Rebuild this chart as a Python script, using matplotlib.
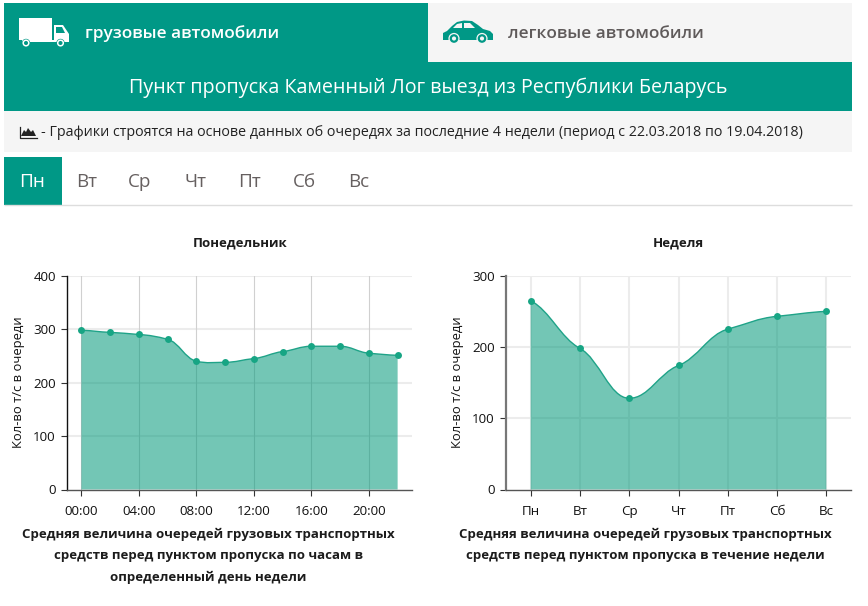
"""Queue charts for the Kamenny Log border checkpoint."""

import matplotlib
matplotlib.use("Agg")
import matplotlib.pyplot as plt
from matplotlib.patches import Circle, PathPatch, Polygon, Rectangle
from matplotlib.path import Path

plt.rcParams["font.family"] = ["Open Sans", "DejaVu Sans"]

GREEN = "#009886"
LINE = "#1fa388"
DOT = "#17a584"
FILL = "#009879"
PANEL = "#f5f5f5"
W, H = 868, 606

# Monday, by hour
hours = [0, 2, 4, 6, 8, 10, 12, 14, 16, 18, 20, 22]
monday_queue = [298, 294, 290, 281, 240, 238, 245, 258, 268, 268, 255, 251]
hour_ticks = [0, 4, 8, 12, 16, 20]
hour_labels = ["00:00", "04:00", "08:00", "12:00", "16:00", "20:00"]
monday_yticks = [0, 100, 200, 300, 400]

# Whole week
days = ["Пн", "Вт", "Ср", "Чт", "Пт", "Сб", "Вс"]
week_queue = [265, 198, 128, 174, 225, 243, 250]
week_yticks = [0, 100, 200, 300]


def curve_path(xs, ys, k=0.55, handle=0.4):
    # smooth bezier through the points, flat at local extrema
    slopes = []
    for i in range(len(xs)):
        lo, hi = max(i - 1, 0), min(i + 1, len(xs) - 1)
        s = (ys[hi] - ys[lo]) / (xs[hi] - xs[lo])
        if 0 < i < len(xs) - 1 and (ys[i] - ys[lo]) * (ys[hi] - ys[i]) <= 0:
            s = 0
        slopes.append(k * s)
    verts = [(xs[0], ys[0])]
    codes = [Path.MOVETO]
    for i in range(len(xs) - 1):
        h = (xs[i + 1] - xs[i]) * handle
        verts += [(xs[i] + h, ys[i] + slopes[i] * h),
                  (xs[i + 1] - h, ys[i + 1] - slopes[i + 1] * h),
                  (xs[i + 1], ys[i + 1])]
        codes += [Path.CURVE4] * 3
    return verts, codes


def area_axes(fig, box, xs, ys, xlim, ylim, xticks, xlabels, yticks, vgrid, vlw, spine):
    left, top, right, bottom = box
    ax = fig.add_axes([left / W, 1 - bottom / H, (right - left) / W, (bottom - top) / H], zorder=2)
    ax.patch.set_alpha(0)
    ax.set_xlim(*xlim)
    ax.set_ylim(*ylim)
    ax.set_xticks(xticks, xlabels)
    ax.set_yticks(yticks)
    ax.tick_params(labelsize=9.6, length=4, width=0.8, color="#333333", labelcolor="#111111", pad=4)
    ax.tick_params(axis="x", pad=7)
    for v in yticks[1:]:
        ax.axhline(v, color="#ececec", lw=1.5, zorder=1)
    for v in xticks:
        ax.axvline(v, color=vgrid, lw=vlw, zorder=1)

    verts, codes = curve_path(xs, ys)
    area = verts + [(xs[-1], 0), (xs[0], 0), (xs[0], ys[0])]
    area_codes = codes + [Path.LINETO, Path.LINETO, Path.CLOSEPOLY]
    ax.add_patch(PathPatch(Path(area, area_codes), fc=FILL, ec="none", alpha=0.55, zorder=2))
    ax.add_patch(PathPatch(Path(verts, codes), fc="none", ec=LINE, lw=1, zorder=3))
    ax.plot(xs, ys, "o", color=DOT, ms=5, mew=0, zorder=4, clip_on=False)

    for name in ("top", "right"):
        ax.spines[name].set_visible(False)
    ax.spines["left"].set_color(spine[0])
    ax.spines["left"].set_linewidth(spine[1])
    ax.spines["bottom"].set_color("#555555")
    ax.spines["bottom"].set_linewidth(1)
    return ax


def draw_header(bg):
    bg.add_patch(Rectangle((4, 3), 424, 59, fc=GREEN, ec="none"))
    bg.add_patch(Rectangle((428, 3), 424, 59, fc=PANEL, ec="none"))
    bg.add_patch(Rectangle((4, 62), 848, 49, fc=GREEN, ec="none"))
    bg.add_patch(Rectangle((4, 111), 848, 41, fc=PANEL, ec="none"))
    bg.add_patch(Rectangle((4, 157), 58, 48, fc=GREEN, ec="none"))
    bg.plot([4, 852], [204.5, 204.5], color="#dddddd", lw=1, solid_capstyle="butt")

    # truck icon
    bg.add_patch(Rectangle((19, 18), 33, 22, fc="white", ec="none"))
    bg.add_patch(Polygon([(54, 25), (63, 25), (69, 34), (69, 42), (54, 42)], fc="white", ec="none"))
    bg.add_patch(Polygon([(56, 27), (62, 27), (65, 33), (56, 33)], fc=GREEN, ec="none"))
    bg.add_patch(Rectangle((22, 40), 32, 2, fc="white", ec="none"))
    for cx in (26, 60.5):
        bg.add_patch(Circle((cx, 43), 4.2, fc=GREEN, ec="none"))
        bg.add_patch(Circle((cx, 43), 2.8, fc=GREEN, ec="white", lw=1.1))

    # car icon
    car = [(443, 38), (443, 33), (447, 31), (452, 26), (457, 22), (464, 20.5), (472, 21), (478, 25),
           (483, 29), (490, 31), (493, 34), (493, 40), (443, 40)]
    bg.add_patch(Polygon(car, fc=GREEN, ec="none"))
    bg.add_patch(Polygon([(453, 28), (457, 24), (462, 23), (462, 28)], fc=PANEL, ec="none"))
    bg.add_patch(Polygon([(464, 23), (470, 23), (475, 28), (464, 28)], fc=PANEL, ec="none"))
    for cx in (454, 482):
        bg.add_patch(Circle((cx, 38.5), 5.6, fc=PANEL, ec="none"))
        bg.add_patch(Circle((cx, 38.5), 3.2, fc=PANEL, ec=GREEN, lw=1.6))

    # small area icon
    bg.add_patch(Polygon([(21, 136), (24, 130), (26, 132), (28, 128), (31, 132), (33, 130), (36, 136)],
                         fc="#222222", ec="none"))
    bg.plot([19.5, 19.5, 36.5], [127, 137.5, 137.5], color="#222222", lw=0.9)

    kw = dict(va="center", family=["Open Sans", "DejaVu Sans"])
    bg.text(85, 33.5, "грузовые автомобили", color="white", fontsize=12.4, weight="semibold", **kw)
    bg.text(508, 33.5, "легковые автомобили", color="#5f5a5a", fontsize=12.4, weight="semibold", **kw)
    bg.text(428, 87.5, "Пункт пропуска Каменный Лог выезд из Республики Беларусь",
            color="white", fontsize=14.25, ha="center", **kw)
    bg.text(41, 132.5, "- Графики строятся на основе данных об очередях за последние 4 недели "
            "(период с 22.03.2018 по 19.04.2018)", color="#222222", fontsize=10.25, **kw)
    for i, (name, cx) in enumerate(zip(days, [32, 87, 140, 195, 249, 304, 359])):
        bg.text(cx, 182, name, color="white" if i == 0 else "#666060", fontsize=13.6, ha="center", **kw)


def draw_captions(bg):
    kw = dict(va="center", ha="center", weight="bold", color="#1c1c1c")
    bg.text(240, 243, "Понедельник", fontsize=9.5, **kw)
    bg.text(678, 243, "Неделя", fontsize=9.5, **kw)
    left = ["Средняя величина очередей грузовых транспортных",
            "средств перед пунктом пропуска по часам в",
            "определенный день недели"]
    right = ["Средняя величина очередей грузовых транспортных",
             "средств перед пунктом пропуска в течение недели"]
    for cx, lines in ((208, left), (645, right)):
        for line, y in zip(lines, (534.5, 556, 577)):
            bg.text(cx, y, line, fontsize=9.5, **kw)
    for x in (18.5, 457):
        bg.text(x, 382, "Кол-во т/с в очереди", rotation=90, fontsize=9.4, color="#111111",
                va="center", ha="center")


def main():
    fig = plt.figure(figsize=(W / 100, H / 100), dpi=100, facecolor="white")
    bg = fig.add_axes([0, 0, 1, 1], zorder=1)
    bg.set_xlim(0, W)
    bg.set_ylim(H, 0)
    bg.axis("off")

    draw_header(bg)
    draw_captions(bg)

    area_axes(fig, (67, 275.7, 412, 489.5), hours, monday_queue, (-1, 23), (0, 400),
              hour_ticks, hour_labels, monday_yticks, "#d0d0d0", 0.8, ("#111111", 1))
    area_axes(fig, (506, 275.7, 851, 489.5), list(range(len(days))), week_queue, (-0.5, 6.5), (0, 300),
              list(range(len(days))), days, week_yticks, "#ececec", 1.5, ("#777777", 1.6))

    fig.savefig("out.png", dpi=100)
    plt.close(fig)


if __name__ == "__main__":
    main()
